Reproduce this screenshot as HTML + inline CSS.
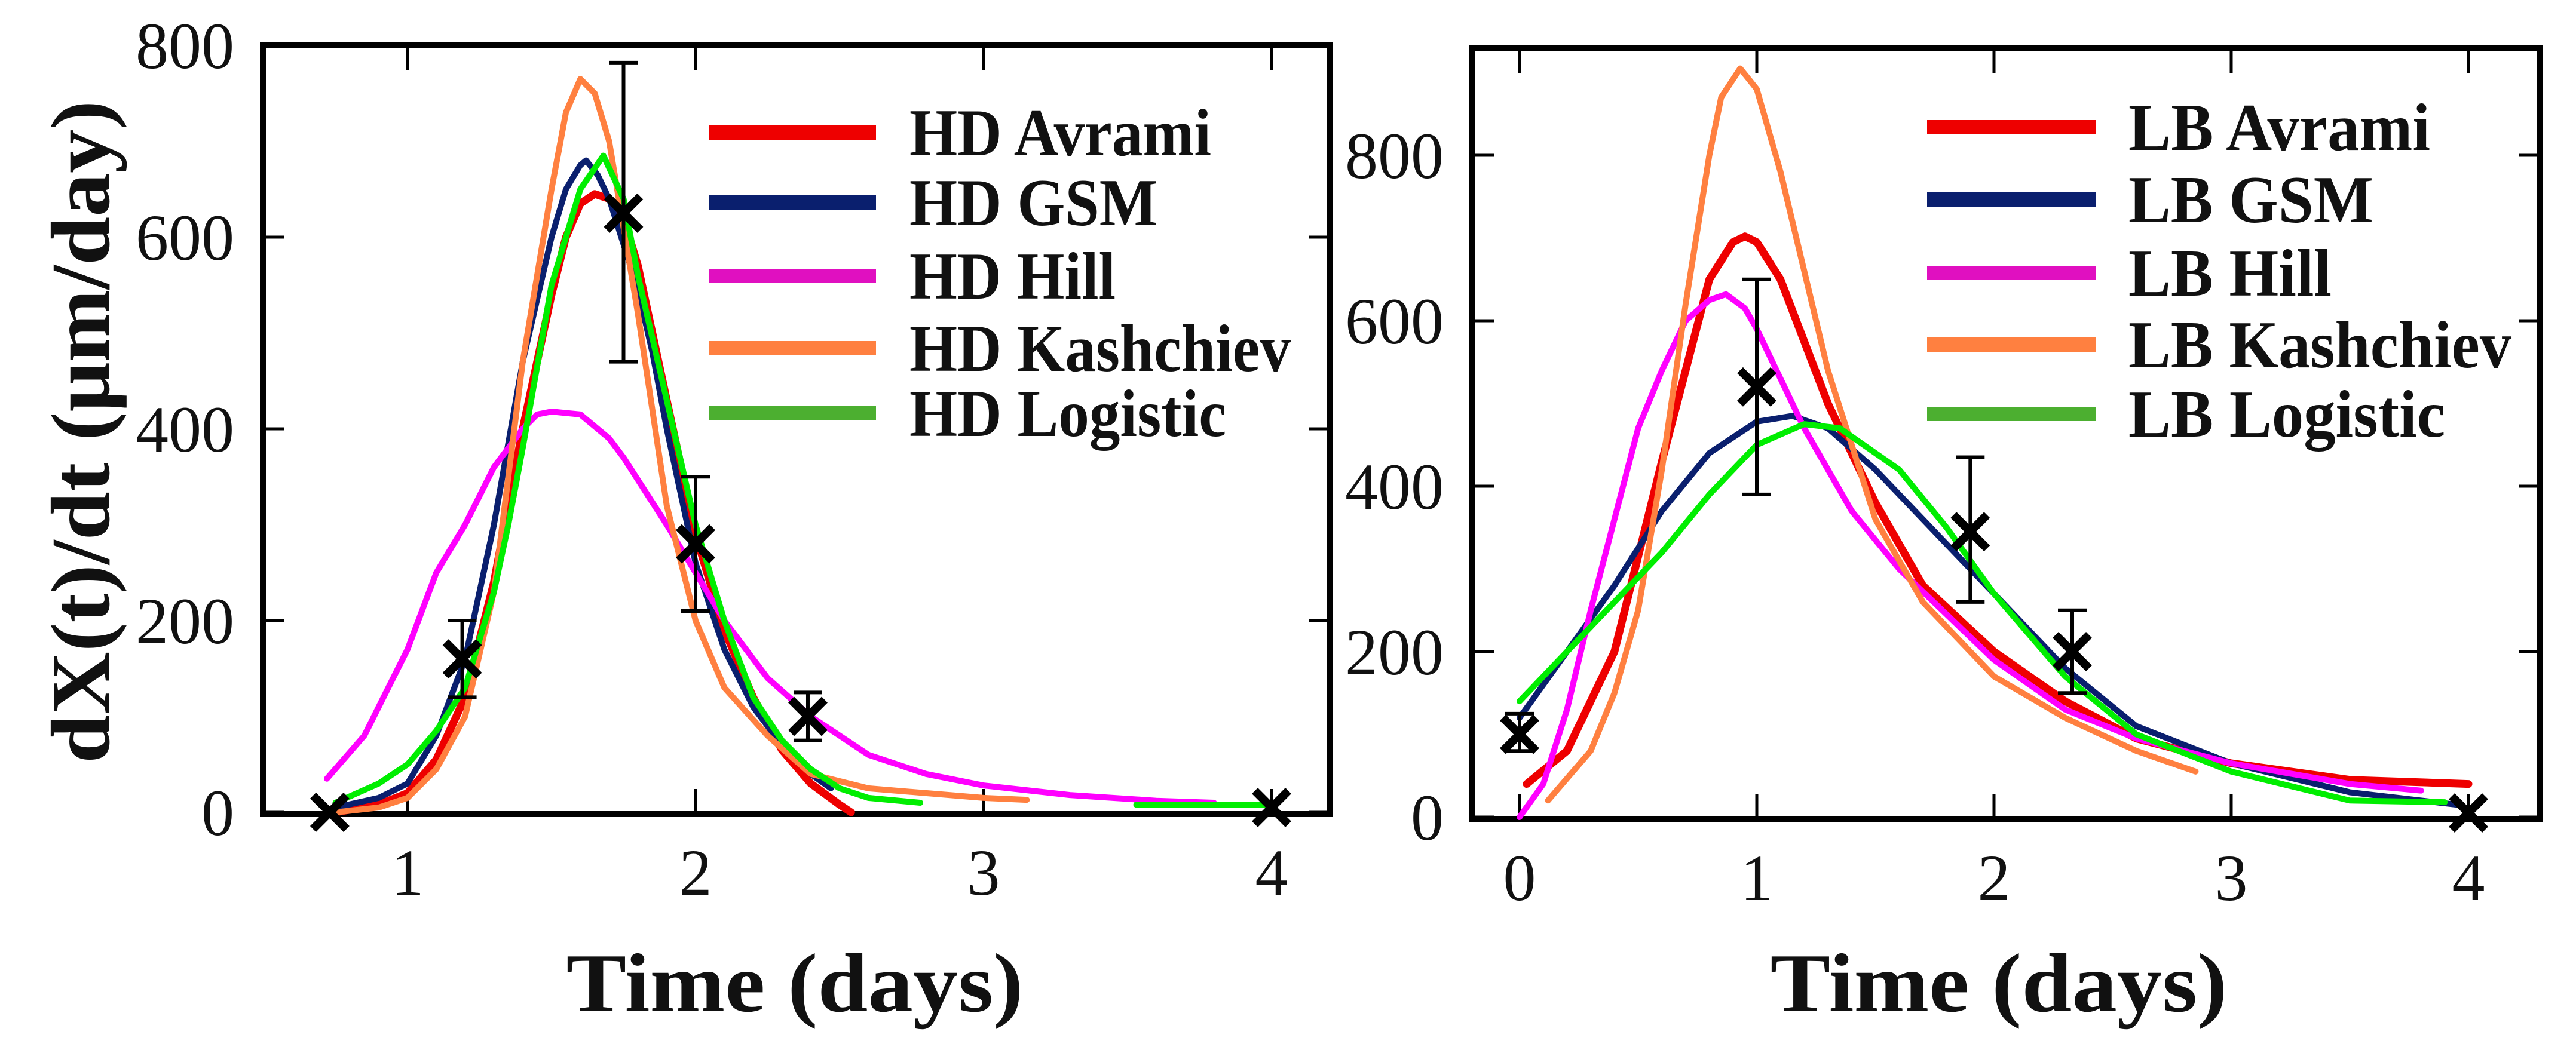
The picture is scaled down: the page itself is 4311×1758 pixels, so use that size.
<!DOCTYPE html>
<html><head><meta charset="utf-8"><style>
html,body{margin:0;padding:0;background:#fff;}
svg{display:block;}
text{font-family:"Liberation Serif",serif;}
</style></head>
<body>
<svg id="chart" xmlns="http://www.w3.org/2000/svg" width="4311" height="1758" viewBox="0 0 4311 1758">
<rect width="4311" height="1758" fill="#fff"/>
<g id="left"></g>
<g id="right"></g>
</svg>
<script>
// ---------- data: left (HD) ----------
const hdNames = ["HD Avrami","HD GSM","HD Hill","HD Kashchiev","HD Logistic"];
const hdAvramiX = [0.75,0.9,1.0,1.1,1.2,1.3,1.4,1.5,1.55,1.6,1.65,1.7,1.75,1.8,1.9,2.0,2.1,2.2,2.3,2.4,2.5,2.54];
const hdAvramiY = [0,8,20,55,120,240,400,540,600,635,645,640,620,570,430,290,190,120,65,30,8,0];
const hdGsmX = [0.75,0.9,1.0,1.1,1.2,1.3,1.4,1.5,1.55,1.6,1.62,1.66,1.7,1.8,1.85,1.9,2.0,2.1,2.2,2.3,2.4,2.47];
const hdGsmY = [5,15,30,80,160,300,470,600,650,675,680,665,640,545,480,400,260,170,110,70,40,25];
const hdHillX = [0.72,0.85,1.0,1.1,1.2,1.3,1.4,1.45,1.5,1.6,1.7,1.75,1.9,2.0,2.1,2.25,2.4,2.6,2.8,3.0,3.3,3.6,3.8];
const hdHillY = [35,80,170,250,300,360,400,415,418,415,390,370,300,250,200,140,100,60,40,28,18,12,10];
const hdKashX = [0.75,0.9,1.0,1.1,1.2,1.3,1.35,1.4,1.5,1.55,1.6,1.65,1.7,1.8,1.9,2.0,2.1,2.25,2.4,2.6,2.8,3.0,3.15];
const hdKashY = [0,5,15,45,100,230,350,470,650,730,765,750,700,520,320,200,130,80,40,25,20,15,13];
const hdLogX = [0.75,0.9,1.0,1.1,1.2,1.3,1.35,1.4,1.5,1.6,1.68,1.75,1.8,1.9,2.0,2.1,2.2,2.3,2.4,2.5,2.6,2.78,null,3.53,4.0];
const hdLogY = [10,30,50,85,130,230,300,380,550,650,685,640,560,430,300,200,120,75,45,25,15,10,null,8,8];
const hdPtX = [0.73,1.19,1.75,2.0,2.39,4.0];
const hdPtY = [0,160,625,280,100,5];
const hdErrLo = [null,120,470,210,75,null];
const hdErrHi = [null,200,782,350,125,null];
const hdYTicks = [0,200,400,600,800];
const hdXTicks = [1,2,3,4];

// ---------- data: right (LB) ----------
const lbNames = ["LB Avrami","LB GSM","LB Hill","LB Kashchiev","LB Logistic"];
const lbAvramiX = [0.03,0.2,0.4,0.6,0.8,0.9,0.95,1.0,1.1,1.3,1.5,1.7,2.0,2.3,2.6,3.0,3.5,4.0];
const lbAvramiY = [40,80,200,430,650,695,702,695,650,500,380,280,200,140,95,65,45,40];
const lbGsmX = [0.0,0.2,0.4,0.6,0.8,1.0,1.15,1.3,1.5,1.8,2.0,2.3,2.6,3.0,3.5,3.95];
const lbGsmY = [120,200,280,370,440,478,485,470,420,330,270,180,110,65,30,15];
const lbHillX = [0.0,0.1,0.2,0.3,0.4,0.5,0.6,0.7,0.8,0.87,0.95,1.0,1.2,1.4,1.6,2.0,2.3,2.6,3.0,3.5,3.8];
const lbHillY = [0,40,130,250,360,470,540,600,625,632,615,590,470,370,300,190,130,95,65,40,32];
const lbKashX = [0.12,0.3,0.4,0.5,0.6,0.7,0.8,0.85,0.93,1.0,1.1,1.15,1.3,1.5,1.7,2.0,2.3,2.6,2.85];
const lbKashY = [20,80,150,250,420,620,800,870,905,880,780,720,540,360,260,170,120,80,55];
const lbLogX = [0.0,0.2,0.4,0.6,0.8,1.0,1.2,1.35,1.6,1.8,2.0,2.3,2.6,3.0,3.5,3.9];
const lbLogY = [140,200,260,320,390,450,475,470,420,350,270,170,100,55,20,18];
const lbPtX = [0.0,1.0,1.9,2.33,4.0];
const lbPtY = [100,520,345,200,5];
const lbErrLo = [80,390,260,150,null];
const lbErrHi = [125,650,435,250,null];
const lbYTicks = [0,200,400,600,800];
const lbXTicks = [0,1,2,3,4];

const colors = ["#ee0000","#0a1f6e","#ff00ff","#ff8040","#00ee00"];
const legendColors = ["#ee0000","#0a1f6e","#e010c0","#ff8040","#4caf30"];
const NS = "http://www.w3.org/2000/svg";
function mk(parent, tag, attrs){
  const e = document.createElementNS(NS, tag);
  for (const k in attrs) e.setAttribute(k, attrs[k]);
  parent.appendChild(e);
  return e;
}

function panel(g, cfg){
  const sx = v => cfg.x0 + (v - cfg.xv0) * cfg.xs;
  const sy = v => cfg.y0 - v * cfg.ys;
  const fr = mk(g,"rect",{x:cfg.L,y:cfg.T,width:cfg.R-cfg.L,height:cfg.B-cfg.T,fill:"none",stroke:"#000","stroke-width":10});
  
  
  cfg.yTicks.forEach(t=>{
    const y = sy(t);
    const l1 = mk(g,"line",{x1:cfg.L,y1:y,x2:cfg.L+36,y2:y,stroke:"#000","stroke-width":5});
    
    
    const l2 = mk(g,"line",{x1:cfg.R,y1:y,x2:cfg.R-36,y2:y,stroke:"#000","stroke-width":5});
    
    
    const tx = mk(g,"text",{x:cfg.L-48,y:y+38,"font-size":110,"text-anchor":"end",fill:"#111"});
    tx.textContent = t;
    
    
  });
  cfg.xTicks.forEach(t=>{
    const x = sx(t);
    const l1 = mk(g,"line",{x1:x,y1:cfg.B,x2:x,y2:cfg.B-42,stroke:"#000","stroke-width":5});
    
    
    const l2 = mk(g,"line",{x1:x,y1:cfg.T,x2:x,y2:cfg.T+42,stroke:"#000","stroke-width":5});
    
    
    const tx = mk(g,"text",{x:x,y:cfg.B+135,"font-size":110,"text-anchor":"middle",fill:"#111"});
    tx.textContent = t;
    
    
  });
  cfg.series.forEach((s,i)=>{
    let d = "", move = true;
    s.x.forEach((xv,j)=>{
      if (xv === null){ move = true; return; }
      d += (move ? "M" : "L") + sx(xv).toFixed(1) + "," + sy(s.y[j]).toFixed(1) + " ";
      move = false;
    });
    const p = mk(g,"path",{d:d,fill:"none",stroke:colors[i],"stroke-width":i===0?13:10,"stroke-linejoin":"round","stroke-linecap":"round"});
    
    
  });
  cfg.ptX.forEach((xv,j)=>{
    const x = sx(xv), y = sy(cfg.ptY[j]);
    if (cfg.lo[j] !== null){
      const ylo = sy(cfg.lo[j]), yhi = sy(cfg.hi[j]);
      const eb = mk(g,"path",{d:`M${x},${ylo}L${x},${yhi}M${x-24},${ylo}L${x+24},${ylo}M${x-24},${yhi}L${x+24},${yhi}`,stroke:"#000","stroke-width":6,fill:"none"});
      
      
    }
    const r = 28;
    const m = mk(g,"path",{d:`M${x-r},${y-r}L${x+r},${y+r}M${x-r},${y+r}L${x+r},${y-r}`,stroke:"#000","stroke-width":14,fill:"none"});
    
    
  });
  const lens = cfg.legLens;
  cfg.names.forEach((n,i)=>{
    const y = cfg.legY[i];
    const ll = mk(g,"line",{x1:cfg.legX1,y1:y,x2:cfg.legX2,y2:y,stroke:legendColors[i],"stroke-width":24});
    
    
    const t = mk(g,"text",{x:cfg.legTX,y:y+38,"font-size":112,"font-weight":"bold",fill:"#111",textLength:lens[i],lengthAdjust:"spacingAndGlyphs"});
    t.textContent = n;
    
    
  });
  const xt = mk(g,"text",{x:cfg.xtX,y:1693,"font-size":140,"font-weight":"bold","text-anchor":"middle",fill:"#111",textLength:765,lengthAdjust:"spacingAndGlyphs"});
  xt.textContent = "Time (days)";
  
  
}

panel(document.getElementById("left"), {
  p:"hd", L:440, R:2226, T:75, B:1363,
  x0:682, xv0:1, xs:482, y0:1360, ys:321/200,
  yTicks:hdYTicks, xTicks:hdXTicks, names:hdNames,
  series:[{x:hdAvramiX,y:hdAvramiY},{x:hdGsmX,y:hdGsmY},{x:hdHillX,y:hdHillY},{x:hdKashX,y:hdKashY},{x:hdLogX,y:hdLogY}],
  ptX:hdPtX, ptY:hdPtY, lo:hdErrLo, hi:hdErrHi,
  legX1:1186, legX2:1466, legTX:1522, legY:[222,339,462,583,692], xtX:1330,
  legLens:[505,415,345,638,530]
});
panel(document.getElementById("right"), {
  p:"lb", L:2464, R:4251, T:81, B:1372,
  x0:2543, xv0:0, xs:397, y0:1368, ys:277/200,
  yTicks:lbYTicks, xTicks:lbXTicks, names:lbNames,
  series:[{x:lbAvramiX,y:lbAvramiY},{x:lbGsmX,y:lbGsmY},{x:lbHillX,y:lbHillY},{x:lbKashX,y:lbKashY},{x:lbLogX,y:lbLogY}],
  ptX:lbPtX, ptY:lbPtY, lo:lbErrLo, hi:lbErrHi,
  legX1:3225, legX2:3507, legTX:3562, legY:[213,334,457,577,693], xtX:3345,
  legLens:[505,410,340,641,530]
});

const yt = document.createElementNS(NS,"text");
yt.setAttribute("x", 0); yt.setAttribute("y", 0);
yt.setAttribute("transform","translate(182,723) rotate(-90)");
yt.setAttribute("font-size","140"); yt.setAttribute("font-weight","bold");
yt.setAttribute("text-anchor","middle"); yt.setAttribute("fill","#111");
yt.setAttribute("textLength","1110"); yt.setAttribute("lengthAdjust","spacingAndGlyphs");
yt.textContent = "dX(t)/dt (\u03bcm/day)";


document.getElementById("chart").appendChild(yt);
</script>
</body></html>
